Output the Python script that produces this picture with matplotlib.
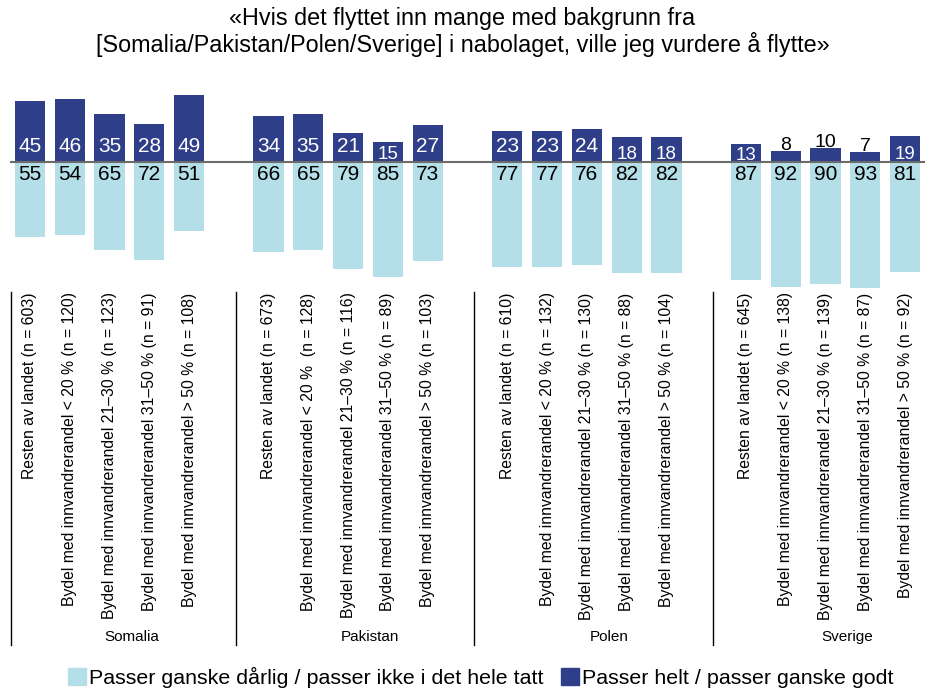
import matplotlib
matplotlib.use('Agg')
import matplotlib.pyplot as plt
import matplotlib.transforms as mtransforms
from matplotlib.patches import Patch

plt.rcParams['font.family'] = ['Liberation Sans', 'DejaVu Sans']

# Data
groups = ["Somalia", "Pakistan", "Polen", "Sverige"]
categories = [
    ["Resten av landet (n = 603)",
     "Bydel med innvandrerandel < 20 % (n = 120)",
     "Bydel med innvandrerandel 21\u201330 % (n = 123)",
     "Bydel med innvandrerandel 31\u201350 % (n = 91)",
     "Bydel med innvandrerandel > 50 % (n = 108)"],
    ["Resten av landet (n = 673)",
     "Bydel med innvandrerandel < 20 %  (n = 128)",
     "Bydel med innvandrerandel 21\u201330 % (n = 116)",
     "Bydel med innvandrerandel 31\u201350 % (n = 89)",
     "Bydel med innvandrerandel > 50 % (n = 103)"],
    ["Resten av landet (n = 610)",
     "Bydel med innvandrerandel < 20 % (n = 132)",
     "Bydel med innvandrerandel 21\u201330 % (n = 130)",
     "Bydel med innvandrerandel 31\u201350 % (n = 88)",
     "Bydel med innvandrerandel > 50 % (n = 104)"],
    ["Resten av landet (n = 645)",
     "Bydel med innvandrerandel < 20 % (n = 138)",
     "Bydel med innvandrerandel 21\u201330 % (n = 139)",
     "Bydel med innvandrerandel 31\u201350 % (n = 87)",
     "Bydel med innvandrerandel > 50 % (n = 92)"],
]
agree = [[45, 46, 35, 28, 49],
         [34, 35, 21, 15, 27],
         [23, 23, 24, 18, 18],
         [13, 8, 10, 7, 19]]
disagree = [[55, 54, 65, 72, 51],
            [66, 65, 79, 85, 73],
            [77, 77, 76, 82, 82],
            [87, 92, 90, 93, 81]]

dark = '#2f3e88'
light = '#b5dfe8'

fig = plt.figure(figsize=(9.25, 6.91), dpi=100)
ax = fig.add_axes([10 / 925, 1 - 291 / 691, 915 / 925, 197 / 691])

xs, labels = [], []
for g in range(len(groups)):
    for j in range(5):
        x = g * 6 + j
        xs.append(x)
        labels.append(categories[g][j])
        a, d = agree[g][j], disagree[g][j]
        ax.bar(x, a, width=0.76, color=dark)
        ax.bar(x, -d, width=0.76, color=light)
        # label placement: large bars get a roomy label, short bars a smaller one
        if a >= 20:
            ax.text(x, 7.5, str(a), ha='center', va='baseline', color='white', fontsize=15)
        elif a >= 12:
            ax.text(x, min(2.5, a - 11.8), str(a), ha='center', va='baseline',
                    color='white', fontsize=13.5)
        else:
            ax.text(x, a + 1.0, str(a), ha='center', va='baseline', color='black', fontsize=14)
        ax.text(x, -2.2, str(d), ha='center', va='top', color='black', fontsize=15)

ax.axhline(0, color='#6b6b6b', lw=1.5)
ax.set_xlim(-0.5, 22.5)
ax.set_ylim(-95, 50)
ax.set_yticks([])
ax.set_xticks(xs)
ax.set_xticklabels(labels, rotation=90, fontsize=11.3, va='top', ha='center')
ax.tick_params(axis='x', length=0, pad=1)
for s in ax.spines.values():
    s.set_visible(False)

# group separators and names
trans = mtransforms.blended_transform_factory(ax.transData, fig.transFigure)
for xsep in [-0.48, 5.17, 11.17, 17.17]:
    ax.plot([xsep, xsep], [1 - 292 / 691, 1 - 645 / 691], color='black', lw=1,
            transform=trans, clip_on=False)
for g, name in enumerate(groups):
    ax.text(g * 6 + 2.55, 1 - 637 / 691, name, transform=trans, ha='center',
            va='center', fontsize=11)

fig.suptitle("\u00abHvis det flyttet inn mange med bakgrunn fra\n"
             "[Somalia/Pakistan/Polen/Sverige] i nabolaget, ville jeg vurdere \u00e5 flytte\u00bb",
             y=0.99, fontsize=16.8, linespacing=1.1)

handles = [Patch(color=light, label='Passer ganske d\u00e5rlig / passer ikke i det hele tatt'),
           Patch(color=dark, label='Passer helt / passer ganske godt')]
fig.legend(handles=handles, loc='center', bbox_to_anchor=(0.52, 1 - 677 / 691), ncol=2,
           frameon=False, fontsize=15.4, handlelength=0.85, handleheight=0.85,
           handletextpad=0.15, columnspacing=0.8)

fig.savefig('out.png', dpi=100)
